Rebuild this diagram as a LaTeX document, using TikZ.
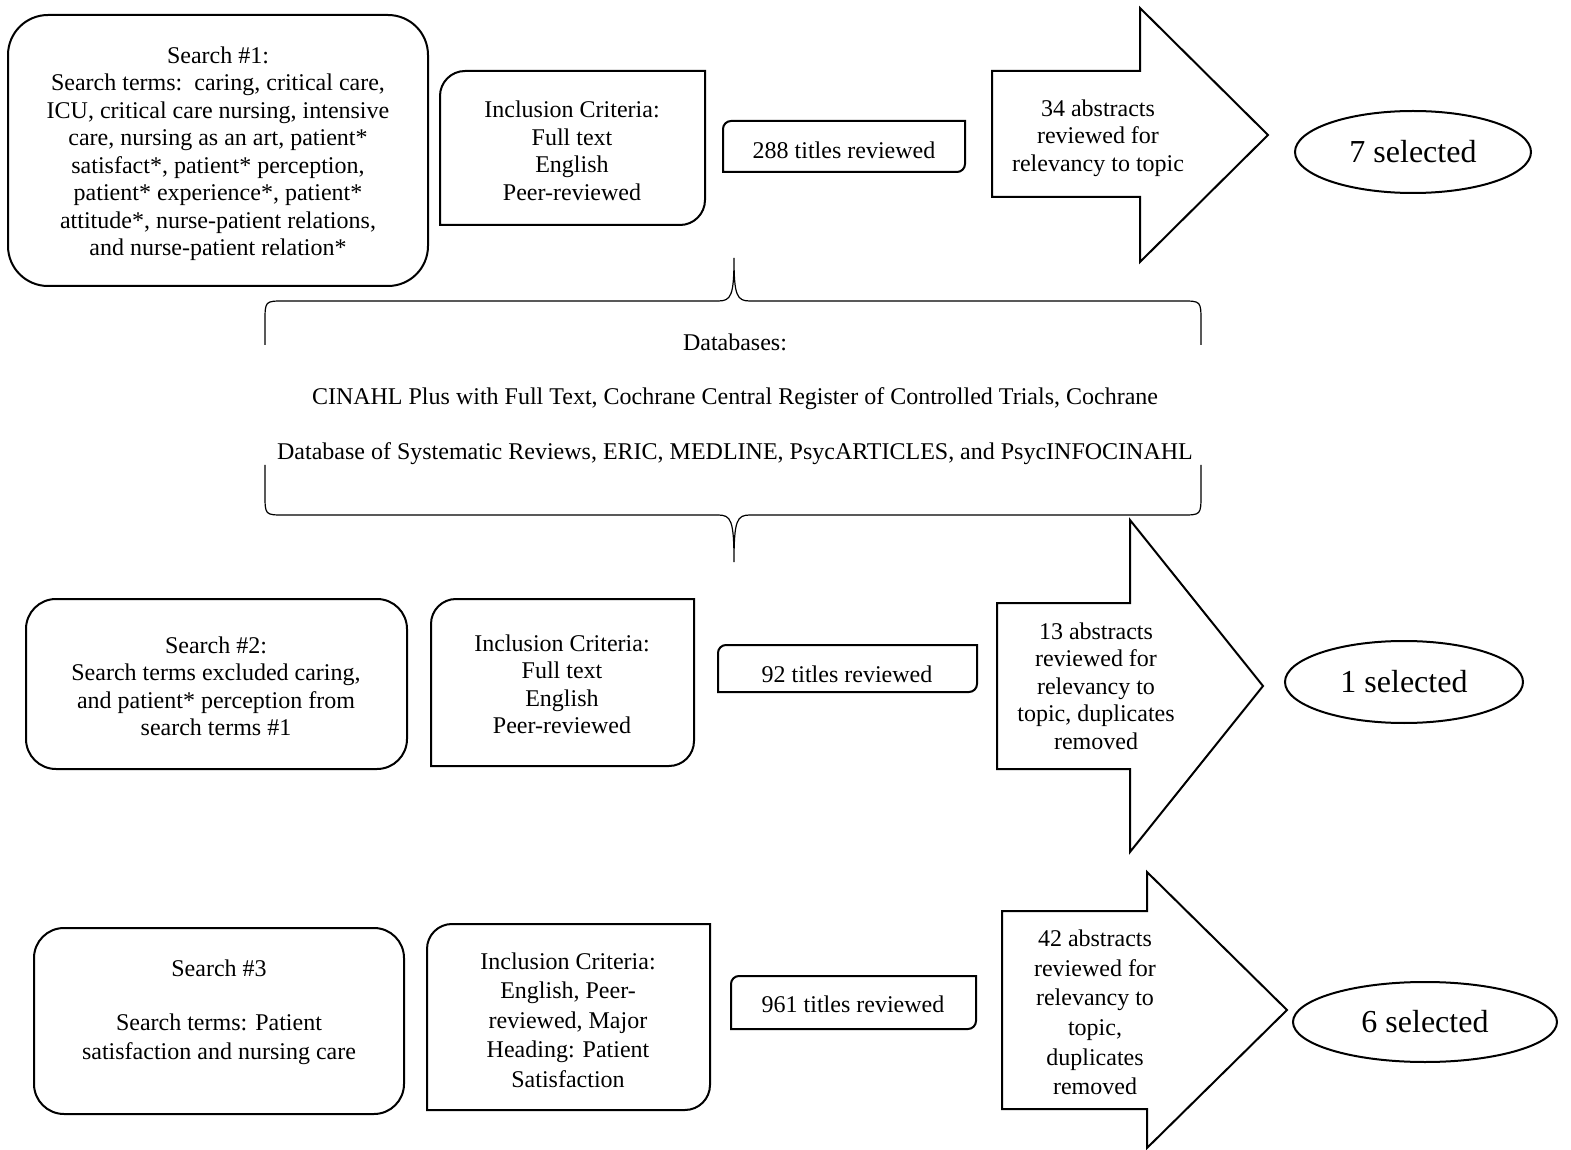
\documentclass[tikz,border=0pt]{standalone}
\usepackage{fontspec}
\setmainfont{Liberation Serif}
\usetikzlibrary{shapes.geometric}
\begin{document}
\begin{tikzpicture}[x=0.5pt,y=-0.5pt,
  shp/.style={draw=black,line width=1pt,line join=miter},
  txt/.style={align=center,inner sep=0pt,font=\fontsize{12}{13.75}\selectfont},
  txtb/.style={align=center,inner sep=0pt,font=\fontsize{12}{14.8}\selectfont},
  sel/.style={draw=black,line width=1pt,ellipse,inner sep=0pt,font=\fontsize{16}{18}\selectfont},
  brace/.style={draw=black,line width=0.6pt}]
\useasboundingbox (0,0) rectangle (1571,1150);

% ---------- Row 1 ----------
\draw[shp,rounded corners=20pt] (8,15) rectangle (428,286);
\node[txt] (s1) at (218,153.5) {Search \#1:\\Search terms:\ \ caring, critical care,\\ICU, critical care nursing, intensive\\care, nursing as an art, patient*\\satisfact*, patient* perception,\\patient* experience*, patient*\\attitude*, nurse-patient relations,\\and nurse-patient relation*};

\draw[shp] (440,225) -- (440,96) .. controls (440,82.2) and (451.2,71) .. (465,71) -- (705,71) -- (705,200) .. controls (705,213.8) and (693.8,225) .. (680,225) -- cycle;
\node[txt] (i1) at (572,151) {Inclusion Criteria:\\Full text\\English\\Peer-reviewed};

\draw[shp] (723,172) -- (723,129) .. controls (723,124.6) and (726.6,121) .. (731,121) -- (965,121) -- (965,164) .. controls (965,168.4) and (961.4,172) .. (957,172) -- cycle;
\node[txt] (t1) at (844,150) {288 titles reviewed};

\draw[shp] (992,71) -- (1140,71) -- (1140,8) -- (1268,135) -- (1140,262) -- (1140,197) -- (992,197) -- cycle;
\node[txt] (a1) at (1098,138) {34 abstracts\\reviewed for\\relevancy to topic};

\node[sel,minimum width=118pt,minimum height=41pt] (e1) at (1413,152) {7 selected};

% ---------- Databases brace ----------
\coordinate (btl) at (265,345);
\coordinate (btr) at (1201,345);
\coordinate (btm) at (734,258);
\draw[brace] (btl) -- (265,322) .. controls (265,301) .. (284,301) -- (718,301) .. controls (731,301) and (734,296) .. (btm)
  .. controls (734,296) and (737,301) .. (750,301) -- (1182,301) .. controls (1201,301) .. (1201,322) -- (btr);
\coordinate (bbl) at (265,465);
\coordinate (bbr) at (1201,465);
\coordinate (bbm) at (734,562);
\draw[brace] (bbl) -- (265,494) .. controls (265,515) .. (284,515) -- (718,515) .. controls (731,515) and (734,520) .. (bbm)
  .. controls (734,520) and (737,515) .. (750,515) -- (1182,515) .. controls (1201,515) .. (1201,494) -- (bbr);
\node[txt] (db0) at (735,342.5) {Databases:};
\node[txt] (db1) at (735,398.5) {CINAHL Plus with Full Text, Cochrane Central Register of Controlled Trials, Cochrane};
\node[txt] (db2) at (735,453.5) {Database of Systematic Reviews, ERIC, MEDLINE, PsycARTICLES, and PsycINFOCINAHL};

% ---------- Row 2 ----------
\draw[shp,rounded corners=15pt] (26,599) rectangle (407,769);
\node[txt] (s2) at (216,686.5) {Search \#2:\\Search terms excluded caring,\\and patient* perception from\\search terms \#1};

\draw[shp] (431,766) -- (431,624) .. controls (431,610.2) and (442.2,599) .. (456,599) -- (694,599) -- (694,741) .. controls (694,754.8) and (682.8,766) .. (669,766) -- cycle;
\node[txt] (i2) at (562,684.5) {Inclusion Criteria:\\Full text\\English\\Peer-reviewed};

\draw[shp] (718,692) -- (718,653) .. controls (718,648.6) and (721.6,645) .. (726,645) -- (977,645) -- (977,684) .. controls (977,688.4) and (973.4,692) .. (969,692) -- cycle;
\node[txt] (t2) at (847,674.5) {92 titles reviewed};

\draw[shp] (997,603) -- (1130,603) -- (1130,520) -- (1263,686) -- (1130,852) -- (1130,769) -- (997,769) -- cycle;
\node[txt] (a2) at (1096,686) {13 abstracts\\reviewed for\\relevancy to\\topic, duplicates\\removed};

\node[sel,minimum width=119pt,minimum height=41pt] (e2) at (1404,682) {1 selected};

% ---------- Row 3 ----------
\draw[shp,rounded corners=15pt] (34,928) rectangle (404,1114);
\node[txtb] (s3) at (219,1012.5) {Search \#3\\[12pt]Search terms: Patient\\satisfaction and nursing care};

\draw[shp] (427,1110) -- (427,949) .. controls (427,935.2) and (438.2,924) .. (452,924) -- (710,924) -- (710,1085) .. controls (710,1098.8) and (698.8,1110) .. (685,1110) -- cycle;
\node[txtb] (i3) at (568,1020) {Inclusion Criteria:\\English, Peer-\\reviewed, Major\\Heading: Patient\\Satisfaction};

\draw[shp] (731,1029) -- (731,984) .. controls (731,979.6) and (734.6,976) .. (739,976) -- (976,976) -- (976,1021) .. controls (976,1025.4) and (972.4,1029) .. (968,1029) -- cycle;
\node[txt] (t3) at (853,1004.5) {961 titles reviewed};

\draw[shp] (1002,911) -- (1147,911) -- (1147,872) -- (1287,1010) -- (1147,1148) -- (1147,1109) -- (1002,1109) -- cycle;
\node[txtb] (a3) at (1095,1012.5) {42 abstracts\\reviewed for\\relevancy to\\topic,\\duplicates\\removed};

\node[sel,minimum width=132pt,minimum height=40pt] (e3) at (1425,1022) {6 selected};
\end{tikzpicture}
\end{document}
